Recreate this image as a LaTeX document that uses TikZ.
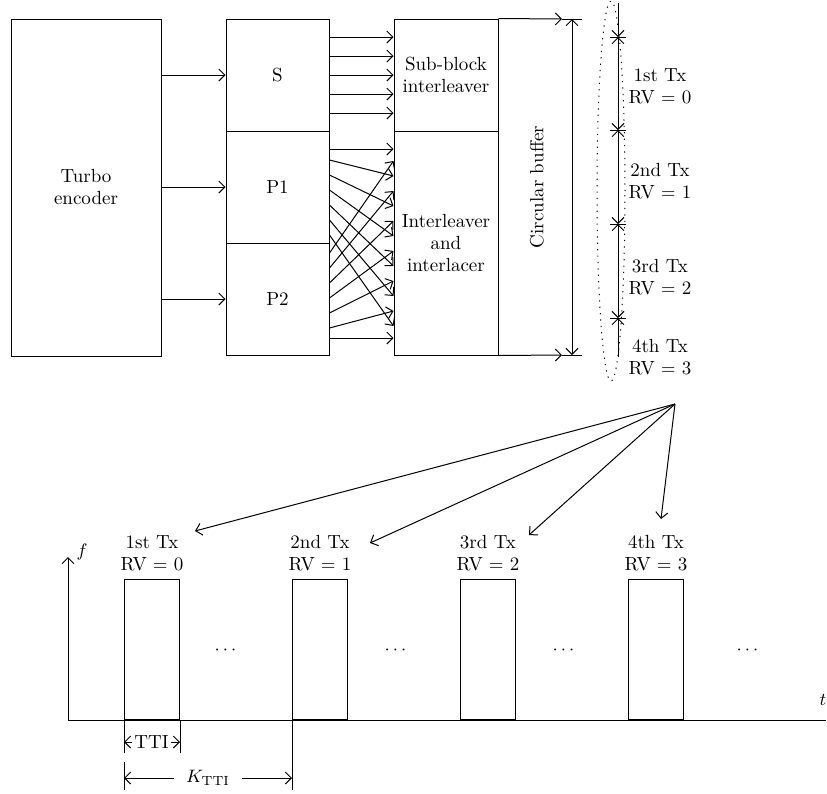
\documentclass[tikz,border=0pt]{standalone}
\usepackage{amsmath}
\usetikzlibrary{arrows.meta}
\begin{document}
\begin{tikzpicture}[x=0.5pt,y=-0.5pt,line width=0.5pt,
  >={Straight Barb[length=3pt,width=6pt]},
  font=\fontsize{9.5}{11}\selectfont,
  blk/.style={draw,inner sep=0pt,align=center},
  lbl/.style={align=center,inner sep=1pt}]
\useasboundingbox (0,0) rectangle (827,794);
% encoder chain
\node[blk,minimum width=75pt,minimum height=168.5pt] (enc) at (86,187.5) {Turbo\\encoder};
\node[blk,minimum width=51.5pt,minimum height=56pt] (s) at (277.5,75) {S};
\node[blk,minimum width=51.5pt,minimum height=56pt] (p1) at (277.5,187) {P1};
\node[blk,minimum width=51.5pt,minimum height=56pt] (p2) at (277.5,299) {P2};
\node[blk,minimum width=52pt,minimum height=56pt] (sb) at (446,75) {Sub-block\\interleaver};
\node[blk,minimum width=52pt,minimum height=112pt] (il) at (446,243) {Interleaver\\and\\interlacer};
\foreach \n in {s,p1,p2} \draw[->] (enc.east |- \n) -- (\n.west);
\foreach \y in {37,56,75,94,113} \draw[->] (s.east |- 0,\y) -- (sb.west |- 0,\y);
\foreach \y in {149,338} \draw[->] (p1.east |- 0,\y) -- (il.west |- 0,\y);
\foreach \i in {1,...,6} {
  \pgfmathsetmacro\ya{160+15*(\i-1)}
  \pgfmathsetmacro\yb{176+30*(\i-1)}
  \pgfmathsetmacro\yc{253+15*(\i-1)}
  \pgfmathsetmacro\yd{161+30*(\i-1)}
  \draw[->] (p1.east |- 0,\ya) -- (il.west |- 0,\yb);
  \draw[->] (p2.east |- 0,\yc) -- (il.west |- 0,\yd);
}
% circular buffer
\coordinate (cbt) at (562,19);
\coordinate (cbb) at (562,355);
\draw[->] (sb.north east) -- (cbt);
\draw[->] (il.south east) -- (cbb);
\draw (cbt) -- +(20,0) (cbb) -- +(20,0);
\draw[<->] ([xshift=5pt]cbt) -- ([xshift=5pt]cbb);
\node[rotate=90] (cb) at (537,187) {Circular buffer};
% redundancy versions
\foreach \y [count=\k from 0] in {37,130,224,318} {
  \coordinate (r\k) at (618,\y);
  \draw ([xshift=-4pt]r\k) -- ([xshift=4pt]r\k);
}
\coordinate (rtop) at (618,3);
\coordinate (rbot) at (618,357);
\draw[->] (rtop) -- (r0);
\draw[<->] (r0) -- (r1);
\draw[<->] (r1) -- (r2);
\draw[<->] (r2) -- (r3);
\draw[->] (rbot) -- (r3);
\node[lbl] (tx1) at (660,86) {1st Tx\\RV $=$ 0};
\node[lbl] (tx2) at (660,181) {2nd Tx\\RV $=$ 1};
\node[lbl] (tx3) at (660,277) {3rd Tx\\RV $=$ 2};
\node[lbl] (tx4) at (660,357) {4th Tx\\RV $=$ 3};
\draw[dash pattern=on 0.6pt off 2.6pt] (611,191) ellipse [x radius=7pt,y radius=95pt];
% transmissions
\coordinate (fan) at (675,404);
\coordinate (a1) at (195,531);
\coordinate (a2) at (370,543);
\coordinate (a3) at (529,535);
\coordinate (a4) at (661,519);
\foreach \k in {1,...,4} \draw[->] (fan) -- (a\k);
\coordinate (o) at (68,720);
\draw[->] (o) -- (68,557);
\draw (o) -- (826,720);
\node (f) at (82,552) {$f$};
\node (t) at (823,700) {$t$};
\foreach \x [count=\k] in {124,292,460,628} {
  \node[blk,minimum width=27.5pt,minimum height=70pt,anchor=south west] (b\k) at (\x,720) {};
}
\node[lbl] (l1) at ([yshift=13pt]b1.north) {1st Tx\\RV $=$ 0};
\node[lbl] (l2) at ([yshift=13pt]b2.north) {2nd Tx\\RV $=$ 1};
\node[lbl] (l3) at ([yshift=13pt]b3.north) {3rd Tx\\RV $=$ 2};
\node[lbl] (l4) at ([yshift=13pt]b4.north) {4th Tx\\RV $=$ 3};
\foreach \x in {227,397,565,749} \node at (\x,650) {$\cdots$};
% TTI spacing
\node[inner sep=1pt] (tti) at (151.5,742) {TTI};
\draw (b1.south west) -- ++(0,33) (b1.south east) -- ++(0,33);
\draw[->] (tti.west) -- (tti.west -| b1.west);
\draw[->] (tti.east) -- (tti.east -| b1.east);
\node[inner sep=6pt] (k) at (208,778) {$K_{\text{TTI}}$};
\draw (b1.south west) ++(0,42) -- ++(0,28);
\draw (b2.south west) -- ++(0,70);
\draw[->] (k.west) -- (k.west -| b1.west);
\draw[->] (k.east) -- (k.east -| b2.west);
\end{tikzpicture}
\end{document}
